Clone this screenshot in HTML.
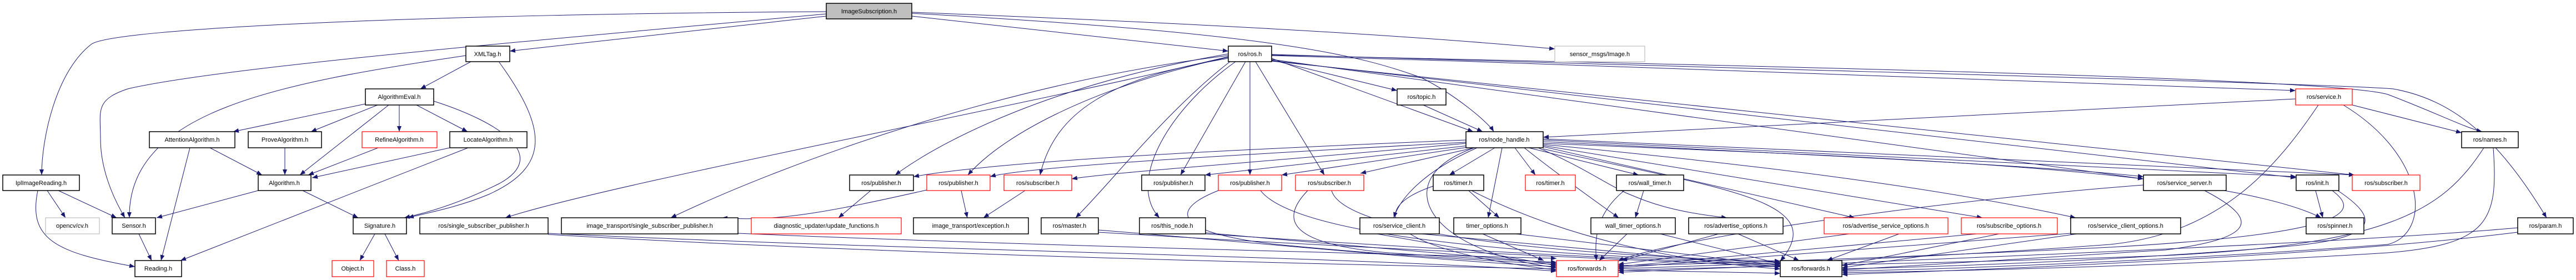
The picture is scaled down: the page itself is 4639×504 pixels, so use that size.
<!DOCTYPE html>
<html><head><meta charset="utf-8"><style>
html,body{margin:0;padding:0;background:#fff;}
svg{display:block;}
text{font-family:"Liberation Sans",sans-serif;font-size:11px;fill:#000;text-anchor:middle;}
.n{fill:#fff;stroke:#000;stroke-width:1.5;}
.r{fill:#fff;stroke:#f00;stroke-width:1.2;}
.g{fill:#fff;stroke:#bfbfbf;stroke-width:1.2;}
.e path{fill:none;stroke:#191970;stroke-width:1;marker-end:url(#a);}
</style></head><body>
<svg width="4639" height="504" viewBox="0 0 4639 504" xmlns="http://www.w3.org/2000/svg">
<defs><marker id="a" markerWidth="10" markerHeight="8" refX="10" refY="4" orient="auto" markerUnits="userSpaceOnUse"><path d="M0,0L10,4L0,8z" fill="#191970"/></marker></defs>
<g class="e">
<path d="M1488,21 C800,25 200,50 164,80 C100,130 75,250 75,315"/>
<path d="M1488,25 C1000,70 400,120 230,160 C170,180 181,200 181,250 C181,300 200,350 225,392"/>
<path d="M1488,29 L918,92"/>
<path d="M1642,29 L2212,92"/>
<path d="M1642,22 C2100,40 2500,60 2800,88"/>
<path d="M1642,24 C2300,60 2450,100 2560,140 C2620,170 2680,220 2690,237"/>
<path d="M839,100 C500,150 230,200 233,392"/>
<path d="M848,111 L757,160"/>
<path d="M899,112 C987,233 990,300 880,350 C820,375 760,385 735,392"/>
<path d="M658,187 L420,237"/>
<path d="M680,189 L560,237"/>
<path d="M700,189 L540,315"/>
<path d="M719,189 L719,237"/>
<path d="M750,189 L842,237"/>
<path d="M781,182 C900,220 990,280 900,330 C820,370 760,385 728,392"/>
<path d="M378,266 L472,315"/>
<path d="M342,266 L290,469"/>
<path d="M513,266 L513,315"/>
<path d="M681,266 L555,315"/>
<path d="M810,266 L562,320"/>
<path d="M843,266 L325,469"/>
<path d="M465,343 L282,392"/>
<path d="M545,343 L645,392"/>
<path d="M85,343 L118,392"/>
<path d="M105,343 L210,392"/>
<path d="M68,343 C50,430 100,455 243,480"/>
<path d="M250,421 L273,469"/>
<path d="M675,421 L648,469"/>
<path d="M693,421 L718,469"/>
<path d="M987,420 C1600,450 2400,460 2803,488"/>
<path d="M987,422 C1800,470 2900,485 3206,492"/>
<path d="M2212,97 C1900,150 1700,250 1612,315"/>
<path d="M2212,100 C1800,150 1400,300 1208,392"/>
<path d="M2212,102 C1800,200 1100,330 910,392"/>
<path d="M2212,103 C1950,160 1800,250 1743,315"/>
<path d="M2212,105 C2000,140 1900,200 1873,315"/>
<path d="M2215,111 C2100,200 2000,330 1937,392"/>
<path d="M2225,111 C2100,200 2030,330 2088,392"/>
<path d="M2243,111 L2126,315"/>
<path d="M2251,111 L2251,315"/>
<path d="M2261,111 L2385,315"/>
<path d="M2290,108 L2516,163"/>
<path d="M2290,105 L2653,237"/>
<path d="M2290,100 C3000,120 3800,150 4134,163"/>
<path d="M2290,99 C3200,120 4200,140 4300,170 C4380,200 4440,230 4470,237"/>
<path d="M2290,98 C3000,120 4200,150 4310,160 C4420,180 4500,250 4586,392"/>
<path d="M2290,107 L3860,322"/>
<path d="M2290,109 L4135,320"/>
<path d="M2290,110 L4240,315"/>
<path d="M2563,189 L2670,237"/>
<path d="M4134,178 L2779,247"/>
<path d="M4236,189 L4433,239"/>
<path d="M4175,189 C4100,300 4000,420 3800,440 C3400,470 3000,480 2914,484"/>
<path d="M4220,189 C4370,280 4380,420 4300,440 C3900,470 3500,485 3317,488"/>
<path d="M4473,266 C4400,380 4300,440 3900,460 C3500,475 3000,482 2914,487"/>
<path d="M4490,266 C4500,400 4480,440 4300,455 C3900,480 3500,488 3317,491"/>
<path d="M4534,410 C4200,440 3400,470 2914,490"/>
<path d="M4534,418 C4200,460 3600,485 3317,494"/>
<path d="M2640,252 C2200,270 1800,290 1645,318"/>
<path d="M2640,256 C2200,280 1850,300 1783,318"/>
<path d="M2640,258 C2300,290 2000,310 1930,322"/>
<path d="M2645,262 L2170,315"/>
<path d="M2650,264 L2308,315"/>
<path d="M2655,266 L2450,312"/>
<path d="M2692,266 L2610,315"/>
<path d="M2728,266 L2765,315"/>
<path d="M2753,266 L2951,315"/>
<path d="M2660,266 C2560,310 2520,360 2510,392"/>
<path d="M2705,266 L2680,392"/>
<path d="M2745,266 C2800,310 2870,360 2915,392"/>
<path d="M2770,266 C2850,300 2890,330 2930,348 C2960,360 3000,380 3110,392"/>
<path d="M2779,264 L3340,392"/>
<path d="M2779,262 L3570,392"/>
<path d="M2779,260 C3200,300 3500,340 3738,392"/>
<path d="M2779,255 C3300,280 3700,300 3860,318"/>
<path d="M2779,252 L4135,318"/>
<path d="M2779,250 L4240,315"/>
<path d="M2779,258 C3300,280 4000,300 4180,392"/>
<path d="M2655,266 C2500,320 2560,450 2803,482"/>
<path d="M2779,268 C3100,340 3300,360 3206,470"/>
<path d="M2630,330 L2700,392"/>
<path d="M2581,335 C2450,380 2500,450 2803,486"/>
<path d="M2650,343 C2800,420 3000,470 3206,484"/>
<path d="M2960,343 L2945,392"/>
<path d="M2925,343 C2880,380 2870,420 2875,469"/>
<path d="M2480,421 L2803,478"/>
<path d="M2560,421 L3206,480"/>
<path d="M2670,421 L2780,469"/>
<path d="M2730,421 L3206,478"/>
<path d="M2930,421 L2880,469"/>
<path d="M2990,421 L3206,475"/>
<path d="M3095,421 L2920,469"/>
<path d="M3130,421 L3240,469"/>
<path d="M3330,421 L2914,476"/>
<path d="M3420,421 L3290,469"/>
<path d="M3560,421 L2914,480"/>
<path d="M3600,421 L3317,478"/>
<path d="M3729,420 L2914,482"/>
<path d="M3740,421 L3317,482"/>
<path d="M3860,333 C3500,360 3000,430 2914,470"/>
<path d="M3970,343 C4080,400 4050,430 3900,450 C3600,470 3400,480 3317,486"/>
<path d="M4170,343 L4183,392"/>
<path d="M4200,343 C4250,380 4240,420 3800,445 C3500,460 3100,475 2914,478"/>
<path d="M4210,343 C4280,390 4300,430 4100,445 C3800,470 3500,480 3317,484"/>
<path d="M1978,414 C2300,440 2600,470 2803,480"/>
<path d="M1978,418 C2500,450 3000,470 3206,480"/>
<path d="M2171,419 C2400,440 2650,460 2803,474"/>
<path d="M2171,421 C2600,450 3000,470 3206,476"/>
<path d="M2194,343 C2100,380 2120,420 2300,440 C2500,460 2700,470 2803,476"/>
<path d="M2270,343 C2330,420 2700,460 3206,472"/>
<path d="M2355,343 C2300,400 2330,440 2500,455 C2650,465 2750,470 2803,472"/>
<path d="M2398,343 C2420,420 2800,460 3206,470"/>
<path d="M1568,343 L1510,392"/>
<path d="M1669,342 C1500,380 1400,400 1300,392"/>
<path d="M1731,343 L1742,392"/>
<path d="M1846,343 L1771,392"/>
<path d="M1329,420 C1800,440 2400,455 2803,465"/>
</g>
<g>
<rect class="n" x="1488" y="6" width="154" height="28" style="fill:#bfbfbf"/><text x="1565" y="24">ImageSubscription.h</text>
<rect class="n" x="5" y="315" width="138" height="28"/><text x="74" y="333">IplImageReading.h</text>
<rect class="n" x="839" y="83" width="79" height="28"/><text x="878" y="101">XMLTag.h</text>
<rect class="n" x="658" y="160" width="123" height="29"/><text x="719" y="178">AlgorithmEval.h</text>
<rect class="n" x="269" y="237" width="154" height="29"/><text x="346" y="255">AttentionAlgorithm.h</text>
<rect class="n" x="447" y="237" width="132" height="29"/><text x="513" y="255">ProveAlgorithm.h</text>
<rect class="r" x="652" y="237" width="135" height="29"/><text x="719" y="255">RefineAlgorithm.h</text>
<rect class="n" x="810" y="237" width="139" height="29"/><text x="879" y="255">LocateAlgorithm.h</text>
<rect class="n" x="465" y="315" width="95" height="28"/><text x="512" y="333">Algorithm.h</text>
<rect class="g" x="82" y="392" width="97" height="29"/><text x="130" y="410">opencv/cv.h</text>
<rect class="n" x="202" y="392" width="78" height="29"/><text x="241" y="410">Sensor.h</text>
<rect class="n" x="636" y="392" width="96" height="29"/><text x="684" y="410">Signature.h</text>
<rect class="n" x="756" y="392" width="231" height="29"/><text x="871" y="410">ros/single_subscriber_publisher.h</text>
<rect class="n" x="1011" y="392" width="318" height="29"/><text x="1170" y="410">image_transport/single_subscriber_publisher.h</text>
<rect class="n" x="243" y="469" width="84" height="29"/><text x="285" y="487">Reading.h</text>
<rect class="r" x="598" y="469" width="75" height="29"/><text x="635" y="487">Object.h</text>
<rect class="r" x="696" y="469" width="68" height="29"/><text x="730" y="487">Class.h</text>
<rect class="n" x="2212" y="83" width="78" height="28"/><text x="2251" y="101">ros/ros.h</text>
<rect class="n" x="1530" y="315" width="115" height="28"/><text x="1587" y="333">ros/publisher.h</text>
<rect class="r" x="1669" y="315" width="114" height="28"/><text x="1726" y="333">ros/publisher.h</text>
<rect class="r" x="1808" y="315" width="122" height="28"/><text x="1869" y="333">ros/subscriber.h</text>
<rect class="n" x="2056" y="315" width="114" height="28"/><text x="2113" y="333">ros/publisher.h</text>
<rect class="r" x="2194" y="315" width="114" height="28"/><text x="2251" y="333">ros/publisher.h</text>
<rect class="r" x="2333" y="315" width="123" height="28"/><text x="2394" y="333">ros/subscriber.h</text>
<rect class="r" x="1353" y="392" width="270" height="29"/><text x="1488" y="410">diagnostic_updater/update_functions.h</text>
<rect class="n" x="1645" y="392" width="207" height="29"/><text x="1748" y="410">image_transport/exception.h</text>
<rect class="n" x="1875" y="392" width="103" height="29"/><text x="1926" y="410">ros/master.h</text>
<rect class="n" x="2052" y="392" width="119" height="29"/><text x="2111" y="410">ros/this_node.h</text>
<rect class="g" x="2800" y="83" width="162" height="28"/><text x="2881" y="101">sensor_msgs/Image.h</text>
<rect class="n" x="2516" y="160" width="88" height="29"/><text x="2560" y="178">ros/topic.h</text>
<rect class="n" x="2640" y="237" width="139" height="29"/><text x="2709" y="255">ros/node_handle.h</text>
<rect class="n" x="2581" y="315" width="91" height="28"/><text x="2626" y="333">ros/timer.h</text>
<rect class="r" x="2747" y="315" width="90" height="28"/><text x="2792" y="333">ros/timer.h</text>
<rect class="n" x="2911" y="315" width="121" height="28"/><text x="2971" y="333">ros/wall_timer.h</text>
<rect class="n" x="2449" y="392" width="143" height="29"/><text x="2520" y="410">ros/service_client.h</text>
<rect class="n" x="2618" y="392" width="121" height="29"/><text x="2678" y="410">timer_options.h</text>
<rect class="n" x="2865" y="392" width="152" height="29"/><text x="2941" y="410">wall_timer_options.h</text>
<rect class="n" x="3041" y="392" width="170" height="29"/><text x="3126" y="410">ros/advertise_options.h</text>
<rect class="r" x="3285" y="392" width="223" height="29"/><text x="3396" y="410">ros/advertise_service_options.h</text>
<rect class="r" x="3532" y="392" width="173" height="29"/><text x="3618" y="410">ros/subscribe_options.h</text>
<rect class="r" x="2803" y="469" width="111" height="29"/><text x="2858" y="487">ros/forwards.h</text>
<rect class="n" x="3206" y="469" width="111" height="29"/><text x="3261" y="487">ros/forwards.h</text>
<rect class="r" x="4134" y="160" width="102" height="29"/><text x="4185" y="178">ros/service.h</text>
<rect class="n" x="4433" y="237" width="102" height="29"/><text x="4484" y="255">ros/names.h</text>
<rect class="n" x="3860" y="315" width="149" height="28"/><text x="3934" y="333">ros/service_server.h</text>
<rect class="n" x="4135" y="315" width="77" height="28"/><text x="4173" y="333">ros/init.h</text>
<rect class="r" x="4236" y="315" width="122" height="28"/><text x="4297" y="333">ros/subscriber.h</text>
<rect class="n" x="3729" y="392" width="198" height="29"/><text x="3828" y="410">ros/service_client_options.h</text>
<rect class="n" x="4153" y="392" width="104" height="29"/><text x="4205" y="410">ros/spinner.h</text>
<rect class="n" x="4534" y="392" width="100" height="29"/><text x="4584" y="410">ros/param.h</text>
</g>
</svg>
</body></html>
